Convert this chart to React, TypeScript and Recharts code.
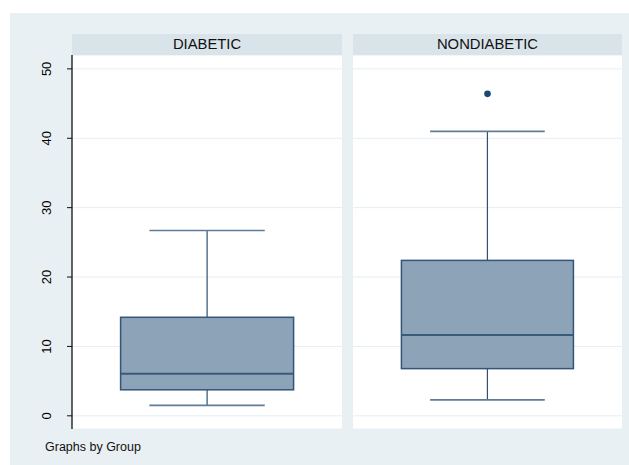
import React from "react";
import { ComposedChart, Bar, Scatter, XAxis, YAxis, CartesianGrid } from "recharts";

const groups = ["DIABETIC", "NONDIABETIC"];
const whiskerLow = [1.5, 2.3];
const q1 = [3.75, 6.8];
const median = [6.05, 11.65];
const q3 = [14.2, 22.4];
const whiskerHigh = [26.7, 41.0];
const outliers: (number | null)[] = [null, 46.4];
const yTicks = [0, 10, 20, 30, 40, 50];

const FONT = "'Liberation Sans', Arial, sans-serif";
const NAVY = "#1a476f";

const WhiskerShape = (props: any) => {
  const { x, y, width, height } = props;
  const top = Math.min(y, y + height);
  const bottom = Math.max(y, y + height);
  const cx = x + width / 2;
  const half = width / 3;
  return (
    <g>
      <line x1={cx} x2={cx} y1={top} y2={bottom} stroke="#2f5073" strokeWidth={1.2} />
      <line x1={cx - half} x2={cx + half} y1={top} y2={top} stroke="#5f7b98" strokeWidth={1.6} />
      <line x1={cx - half} x2={cx + half} y1={bottom} y2={bottom} stroke="#5f7b98" strokeWidth={1.6} />
    </g>
  );
};

const BoxShape = (props: any) => {
  const { x, y, width, height } = props;
  const top = Math.min(y, y + height);
  return (
    <rect x={x} y={top} width={width} height={Math.abs(height)} fill="#8ca3b8" stroke="#33557a" strokeWidth={1.5} />
  );
};

const MedianShape = (props: any) => {
  const { x, y, width } = props;
  return <line x1={x} x2={x + width} y1={y} y2={y} stroke="#3a5a7c" strokeWidth={2} />;
};

const OutlierShape = (props: any) => {
  const { cx, cy } = props;
  return <circle cx={cx} cy={cy} r={3.3} fill={NAVY} />;
};

const RotatedTick = (props: any) => {
  const { x, y, payload } = props;
  return (
    <text
      x={x}
      y={y}
      transform={`rotate(-90, ${x}, ${y})`}
      textAnchor="middle"
      fill="#000"
      fontSize={13}
      fontFamily={FONT}
    >
      {payload.value}
    </text>
  );
};

function Panel({ i, showAxis, width }: { i: number; showAxis: boolean; width: number }) {
  const row = {
    name: groups[i],
    whisker: [whiskerLow[i], whiskerHigh[i]],
    box: [q1[i], q3[i]],
    med: [median[i], median[i]],
    out: outliers[i],
  };
  return (
    <ComposedChart
      width={width}
      height={374}
      data={[row]}
      margin={{ top: 0, right: 0, left: 0, bottom: 0 }}
      barCategoryGap="18%"
      style={{ fontFamily: FONT }}
    >
      <CartesianGrid horizontal vertical={false} stroke="#e6eef1" strokeWidth={1} fill="#fff" />
      <XAxis dataKey="name" type="category" height={0} tick={false} tickLine={false} axisLine={{ stroke: "#111", strokeWidth: 1.3 }} />
      <XAxis xAxisId="w" dataKey="name" type="category" hide />
      <XAxis xAxisId="m" dataKey="name" type="category" hide />
      <YAxis
        domain={[-1.9, 52]}
        ticks={yTicks}
        type="number"
        hide={!showAxis}
        width={42}
        tickSize={5}
        tickMargin={16}
        tick={<RotatedTick />}
        tickLine={{ stroke: "#111" }}
        axisLine={{ stroke: "#111", strokeWidth: 1.3 }}
        allowDataOverflow
      />
      <Bar xAxisId="w" dataKey="whisker" shape={<WhiskerShape />} isAnimationActive={false} />
      <Bar dataKey="box" shape={<BoxShape />} isAnimationActive={false} />
      <Bar xAxisId="m" dataKey="med" shape={<MedianShape />} isAnimationActive={false} />
      {outliers[i] != null && (
        <Scatter dataKey="out" shape={<OutlierShape />} isAnimationActive={false} />
      )}
    </ComposedChart>
  );
}

export default function App() {
  const header: React.CSSProperties = {
    position: "absolute",
    top: 34,
    height: 21,
    lineHeight: "21px",
    background: "#d9e4ea",
    textAlign: "center",
    fontSize: 14.8,
    color: "#111",
    fontFamily: FONT,
  };
  return (
    <div style={{ position: "absolute", left: 0, top: 0, width: 629, height: 465, background: "#fff", overflow: "hidden" }}>
      <div style={{ position: "absolute", left: 10, top: 13, width: 619, height: 452, background: "#e9f0f3" }} />
      <div style={{ ...header, left: 72, width: 270 }}>{groups[0]}</div>
      <div style={{ ...header, left: 353, width: 269 }}>{groups[1]}</div>
      <div style={{ position: "absolute", left: 30, top: 55 }}>
        <Panel i={0} showAxis width={312} />
      </div>
      <div style={{ position: "absolute", left: 353, top: 55 }}>
        <Panel i={1} showAxis={false} width={269} />
      </div>
      <div
        style={{
          position: "absolute",
          left: 45,
          top: 440,
          fontSize: 12.5,
          lineHeight: "14px",
          color: "#111",
          fontFamily: FONT,
        }}
      >
        Graphs by Group
      </div>
    </div>
  );
}
